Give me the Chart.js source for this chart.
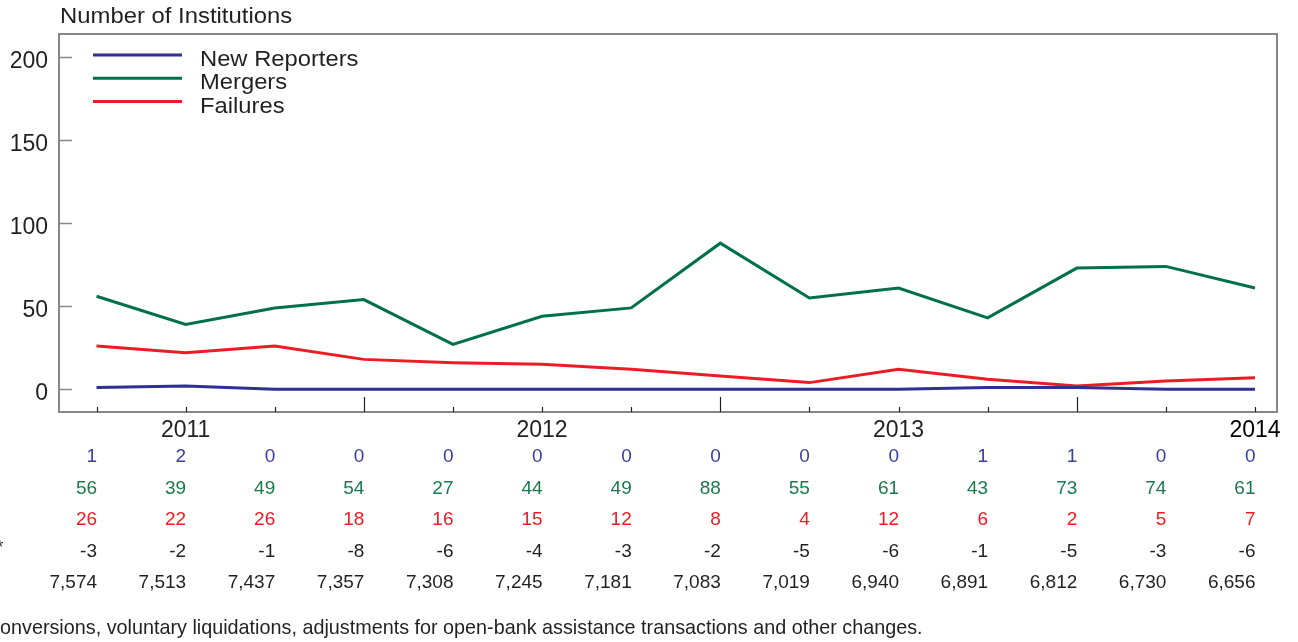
<!DOCTYPE html>
<html>
<head>
<meta charset="utf-8">
<script src="https://cdn.jsdelivr.net/npm/chart.js"></script>
<style>
  html, body { margin: 0; padding: 0; background: #fff; }
  #wrap { width: 1298px; height: 642px; }
</style>
</head>
<body>
<div id="wrap"><canvas id="chart" width="1298" height="642"></canvas></div>
<script>
// quarterly values, one per column of the table under the chart
const quarterLabels = ['', '2011', '', '', '', '2012', '', '', '', '2013', '', '', '', '2014'];
const majorTicks = [3, 7, 11];
const newReporters = [1, 2, 0, 0, 0, 0, 0, 0, 0, 0, 1, 1, 0, 0];
const mergers = [56, 39, 49, 54, 27, 44, 49, 88, 55, 61, 43, 73, 74, 61];
const failures = [26, 22, 26, 18, 16, 15, 12, 8, 4, 12, 6, 2, 5, 7];
const otherChanges = [-3, -2, -1, -8, -6, -4, -3, -2, -5, -6, -1, -5, -3, -6];
const totalInstitutions = [7574, 7513, 7437, 7357, 7308, 7245, 7181, 7083, 7019, 6940, 6891, 6812, 6730, 6656];
const yTicks = [0, 50, 100, 150, 200];

const FONT = '"Liberation Sans", Arial, sans-serif';
const TEXT = '#231f20';
const BLUE = '#2e3192';
const GREEN = '#00704a';
const RED = '#ed1c24';

const toPoints = arr => arr.map((v, i) => ({ x: i, y: v }));

const tableRows = [
    { values: newReporters, color: '#3a3c9c', y: 462 },
    { values: mergers, color: '#1a7a4e', y: 493.5 },
    { values: failures, color: RED, y: 525 },
    { values: otherChanges, color: TEXT, y: 556.5 },
    { values: totalInstitutions, color: TEXT, y: 587.5 }
];

// text in the original is a little wider than Arial, stretch it sideways
function wideText(ctx, str, x, y, stretch) {
    ctx.save();
    ctx.translate(x, y);
    ctx.scale(stretch, 1);
    ctx.fillText(str, 0, 0);
    ctx.restore();
}

const decorations = {
    id: 'decorations',
    afterDraw(chart) {
        const ctx = chart.ctx;
        const area = chart.chartArea;
        const xs = chart.scales.x;
        const ys = chart.scales.y;
        ctx.save();

        // frame
        ctx.strokeStyle = '#878787';
        ctx.lineWidth = 2;
        ctx.strokeRect(area.left, area.top, area.right - area.left, area.bottom - area.top);

        // y ticks pointing inward
        ctx.lineWidth = 1.5;
        yTicks.forEach(v => {
            const y = Math.round(ys.getPixelForValue(v)) + 0.5;
            ctx.beginPath();
            ctx.moveTo(area.left, y);
            ctx.lineTo(area.left + 13, y);
            ctx.stroke();
        });

        // x ticks pointing inward, longer at year boundaries
        ctx.strokeStyle = '#231f20';
        ctx.lineWidth = 1.2;
        quarterLabels.forEach((lbl, i) => {
            const x = Math.round(xs.getPixelForValue(i)) + 0.5;
            const len = majorTicks.includes(i) ? 15 : 5;
            ctx.beginPath();
            ctx.moveTo(x, area.bottom);
            ctx.lineTo(x, area.bottom - len);
            ctx.stroke();
        });

        // axis title
        ctx.fillStyle = TEXT;
        ctx.font = '22px ' + FONT;
        ctx.textAlign = 'left';
        ctx.textBaseline = 'alphabetic';
        wideText(ctx, 'Number of Institutions', 60, 23, 1.085);

        // legend inside the plot
        chart.data.datasets.forEach((ds, i) => {
            const y = 55 + i * 23.3;
            ctx.strokeStyle = ds.borderColor;
            ctx.lineWidth = 3;
            ctx.beginPath();
            ctx.moveTo(93, y);
            ctx.lineTo(182, y);
            ctx.stroke();
            ctx.fillStyle = TEXT;
            ctx.font = '22px ' + FONT;
            wideText(ctx, ds.label, 200, y + 11, 1.08);
        });

        // data table under the chart
        ctx.font = '19px ' + FONT;
        ctx.textAlign = 'right';
        tableRows.forEach(row => {
            ctx.fillStyle = row.color;
            row.values.forEach((v, i) => {
                ctx.fillText(v.toLocaleString('en-US'), xs.getPixelForValue(i) + 0.5, row.y);
            });
        });

        ctx.fillStyle = TEXT;
        ctx.textAlign = 'left';
        ctx.fillText('*', -4, 553);

        ctx.font = '19.8px ' + FONT;
        ctx.fillText('onversions, voluntary liquidations, adjustments for open-bank assistance transactions and other changes.', 0, 634);

        ctx.restore();
    }
};

new Chart(document.getElementById('chart'), {
    type: 'line',
    data: {
        datasets: [
            { label: 'New Reporters', data: toPoints(newReporters), borderColor: BLUE, borderWidth: 3 },
            { label: 'Mergers', data: toPoints(mergers), borderColor: GREEN, borderWidth: 3 },
            { label: 'Failures', data: toPoints(failures), borderColor: RED, borderWidth: 3 }
        ]
    },
    options: {
        responsive: false,
        animation: false,
        devicePixelRatio: 1,
        layout: { padding: { top: 34, right: 21, left: 0, bottom: 0 } },
        elements: { point: { radius: 0 }, line: { tension: 0 } },
        plugins: { legend: { display: false }, tooltip: { enabled: false } },
        scales: {
            x: {
                type: 'linear',
                min: -0.421,
                max: 13.247,
                grid: { display: false, drawTicks: false },
                border: { display: false },
                afterBuildTicks: scale => { scale.ticks = quarterLabels.map((l, i) => ({ value: i })); },
                afterFit: scale => { scale.height = 230; scale.paddingLeft = 0; scale.paddingRight = 0; },
                ticks: {
                    autoSkip: false,
                    maxRotation: 0,
                    padding: 5,
                    color: c => (c.tick && c.tick.value === 13 ? '#000' : TEXT),
                    font: { family: FONT, size: 23 },
                    callback: value => quarterLabels[value] || ''
                }
            },
            y: {
                min: -13.7,
                max: 214,
                grid: { display: false, drawTicks: false },
                border: { display: false },
                afterBuildTicks: scale => { scale.ticks = yTicks.map(v => ({ value: v })); },
                afterFit: scale => { scale.width = 59; scale.paddingTop = 0; scale.paddingBottom = 0; },
                ticks: {
                    padding: 11,
                    labelOffset: 4,
                    color: TEXT,
                    font: { family: FONT, size: 23 }
                }
            }
        }
    },
    plugins: [decorations]
});
</script>
</body>
</html>
